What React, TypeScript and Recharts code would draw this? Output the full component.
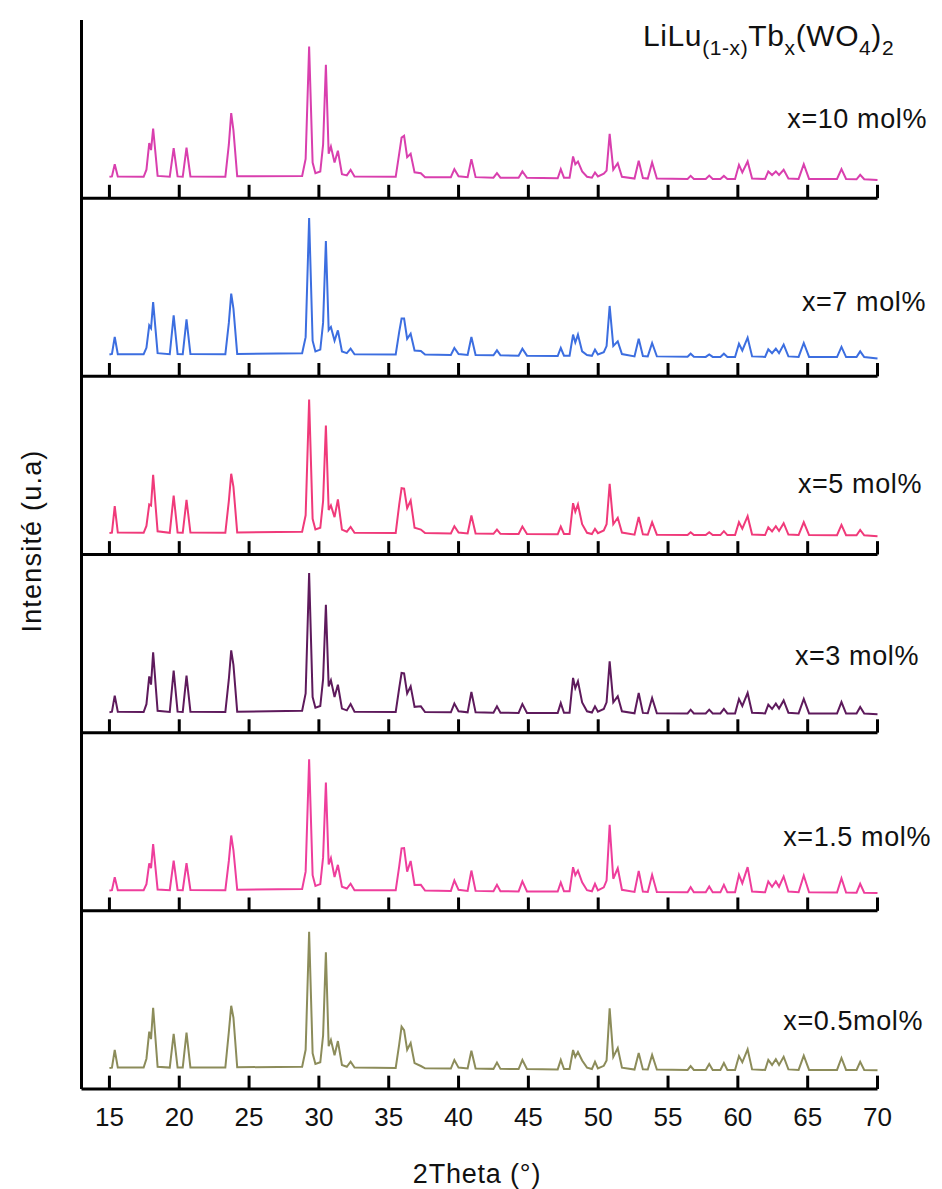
import { LineChart, Line, XAxis, YAxis, ReferenceLine } from 'recharts';

// 2θ sampling points: baseline feet, apexes and valleys of each reflection
const TWO_THETA = [
  15.0, 15.18, 15.38, 15.6,
  17.45, 17.65, 17.85, 17.98, 18.13, 18.45,
  19.32, 19.6, 19.88,
  20.25, 20.52, 20.8,
  23.3, 23.55, 23.72, 23.88, 24.15,
  28.8, 29.05, 29.3, 29.55, 29.75, 30.1, 30.3, 30.5, 30.7, 30.86, 31.12, 31.36, 31.65, 32.0, 32.27, 32.55,
  35.5, 35.75, 35.92, 36.1, 36.32, 36.57, 36.85, 37.3, 37.6,
  39.45, 39.7, 40.0, 40.65, 40.92, 41.22, 42.5, 42.75, 43.0, 44.3, 44.57, 44.9,
  47.1, 47.32, 47.55, 47.95, 48.2, 48.36, 48.55, 48.85, 49.2, 49.55, 49.77, 49.98, 50.4, 50.6, 50.82, 51.08, 51.4, 51.7,
  52.6, 52.9, 53.2, 53.55, 53.86, 54.2,
  56.4, 56.62, 56.85, 57.7, 57.95, 58.2, 58.75, 59.0, 59.25,
  59.8, 60.08, 60.32, 60.7, 61.02, 61.95, 62.18, 62.45, 62.72, 62.95, 63.28, 63.62, 64.35, 64.72, 65.1,
  67.1, 67.42, 67.75, 68.5, 68.76, 69.05, 70.0,
];

const I_10 = [
  12, 12.2, 19.1, 12.2,
  12, 16, 30.9, 27, 39.1, 12.5,
  12, 28.1, 12.2,
  12, 28.4, 12.2,
  12, 30, 47.7, 38, 12.3,
  12.5, 22, 85.1, 20, 14, 15, 30, 74.8, 25, 29, 20, 26.6, 13.5, 12.8, 15.9, 12.2,
  12, 25, 34, 35, 23, 24.9, 14.5, 14, 11.8,
  11.8, 16.3, 12.3, 11.8, 21.9, 11.8, 11.5, 14, 11.5, 11.4, 15, 11.4,
  11.2, 16.3, 11.5, 11.5, 23.4, 19, 20.6, 15, 12, 11.5, 14.4, 12.2, 13.7, 15.5, 36.1, 16, 19.6, 12,
  11, 21, 11.3, 11, 20, 11,
  10.8, 12.5, 10.8, 10.8, 12.7, 10.8, 10.8, 12.5, 10.8,
  10.8, 18.7, 14.5, 20.6, 11, 10.8, 15, 13, 15, 13, 15.9, 11, 10.8, 19.1, 10.8,
  10.8, 16.3, 10.8, 10.6, 13.1, 10.6, 10.2,
];

const I_7 = [
  12.3, 12.6, 22.1, 12.4,
  12.4, 16, 28.6, 27, 41.7, 13,
  12.4, 34.2, 12.5,
  12.4, 32, 12.5,
  12.4, 30, 46.4, 38, 12.6,
  13, 22, 88.9, 20, 14, 15, 30, 75.9, 26, 27.7, 20, 25.8, 14, 13, 15.5, 12.4,
  12.3, 25, 32.4, 32.4, 21, 23.9, 14.5, 14.2, 12.2,
  12, 15.9, 12.5, 12, 22.1, 12, 11.8, 14.6, 11.8, 11.6, 15.5, 11.6,
  11.4, 15.9, 11.6, 11.6, 23.4, 19, 23.4, 14, 12, 11.5, 15, 12.3, 13.5, 17, 39.5, 17, 19.6, 12.5,
  11.2, 21.1, 11.4, 11.2, 18.7, 11.2,
  11, 12.7, 11, 10.9, 12.3, 10.9, 10.9, 12.7, 10.9,
  10.9, 18.3, 14.5, 21.7, 11.2, 10.9, 15.2, 13, 15.5, 13, 17.8, 11.2, 10.9, 18.7, 10.9,
  10.8, 16.5, 10.8, 10.8, 14, 10.8, 10,
];

const I_5 = [
  12, 12.3, 27.1, 12.3,
  12.2, 16, 28.1, 27.5, 44.7, 13,
  12.2, 33.1, 12.3,
  12.2, 30.7, 12.3,
  12.2, 30, 45.3, 38, 12.4,
  12.8, 22, 87, 20, 14, 15, 30, 72.4, 25, 27.5, 21, 30.9, 14, 12.8, 15.5, 12.2,
  12.1, 28, 37.2, 37, 26, 30.3, 15, 14, 12,
  11.8, 15.9, 12.3, 11.8, 21.9, 11.8, 11.6, 14, 11.6, 11.5, 15.7, 11.5,
  11.3, 15.7, 11.5, 11.5, 28.8, 24, 28.1, 17, 12.2, 11.5, 14.4, 12, 13.5, 17, 39.7, 17, 20.6, 12.3,
  11.1, 21, 11.3, 11.1, 18.1, 11.1,
  10.9, 12.5, 10.9, 10.9, 12.5, 10.9, 10.9, 13.1, 10.9,
  10.9, 18.1, 14.5, 21.5, 11.2, 10.9, 15.3, 13, 15.9, 13.2, 17.6, 11.2, 10.9, 18.1, 10.9,
  10.8, 16.6, 10.8, 10.8, 13.8, 10.8, 10.3,
];

const I_3 = [
  11.4, 11.8, 20.8, 11.8,
  11.6, 16, 31.6, 27, 45.1, 12.3,
  11.6, 34.8, 11.8,
  11.6, 32, 11.8,
  11.6, 30, 46.2, 38, 11.8,
  12.3, 22, 89.6, 20, 14, 15, 30, 71.8, 26, 29.4, 20, 26.9, 13.5, 12.5, 16.1, 11.8,
  11.6, 25, 33.5, 33.3, 22, 26, 14.5, 14.8, 11.6,
  11.4, 16.3, 12, 11.4, 22.8, 11.4, 11.2, 14.8, 11.2, 11.1, 16.1, 11.1,
  11, 16.6, 11.2, 11.2, 30.7, 25, 28.8, 17, 12, 11.3, 14.8, 11.8, 13.3, 17, 40, 17, 20.4, 12,
  10.9, 22.3, 11.1, 10.9, 19.5, 10.9,
  10.8, 12.9, 10.8, 10.8, 12.9, 10.8, 10.8, 13.3, 10.8,
  10.8, 18.9, 15, 22.3, 11.2, 10.8, 15.7, 13.3, 16.3, 13.5, 18.1, 11.2, 10.8, 18.9, 10.8,
  10.7, 17.2, 10.7, 10.7, 14.4, 10.7, 10.3,
];

const I_1_5 = [
  11.4, 11.6, 18.9, 11.6,
  11.6, 15, 26.7, 24, 37.4, 12,
  11.6, 28.2, 11.7,
  11.6, 26.7, 11.7,
  11.6, 28, 42.3, 34, 11.8,
  12.3, 22, 85.1, 20, 14, 15, 30, 72, 26, 29.6, 19, 25.8, 13.5, 12.5, 15.2, 11.6,
  11.5, 25, 35, 35.2, 22, 28, 14.5, 14.6, 11.4,
  11.2, 17, 11.8, 11.2, 22.6, 11.2, 11, 14.6, 11, 10.9, 16.5, 10.9,
  10.8, 15.9, 11, 11, 24.5, 20, 22.6, 16, 11.6, 11, 15.2, 11.5, 13.2, 17, 48.3, 18, 23.9, 11.8,
  10.6, 22.4, 10.8, 10.6, 20.2, 10.6,
  10.4, 13.3, 10.4, 10.4, 13.7, 10.4, 10.4, 14.6, 10.4,
  10.4, 20.2, 15.5, 24.5, 10.8, 10.4, 16.5, 13.5, 16.5, 13.5, 19.3, 10.8, 10.4, 19.8, 10.4,
  10.3, 18.3, 10.3, 10.2, 15.2, 10.2, 10,
];

const I_0_5 = [
  11.8, 12, 21.9, 12,
  12, 17, 32.2, 28, 45.6, 12.5,
  12, 30.9, 12,
  12, 31.6, 12,
  12, 32, 46.7, 40, 12.2,
  12.5, 22, 88.3, 20, 14, 15, 30, 76.7, 24, 27.5, 19, 26.9, 13.5, 12.5, 15.3, 12,
  11.8, 25, 35, 33, 22, 25.8, 14.5, 12.9, 11.6,
  11.5, 16.3, 12, 11.5, 21.5, 11.5, 11.3, 14.8, 11.3, 11.2, 16.3, 11.2,
  11, 16.3, 11.2, 11.2, 21.9, 18, 20.8, 16, 12, 11.2, 15.3, 11.5, 13, 16, 45.3, 18, 23, 12,
  10.9, 20.2, 11, 10.9, 19.1, 10.9,
  10.7, 12.9, 10.7, 10.7, 14, 10.7, 10.7, 14.6, 10.7,
  10.7, 18.5, 15, 22.3, 11, 10.7, 16.3, 13.5, 16.7, 13.5, 18.1, 11, 10.7, 18.7, 10.7,
  10.7, 17.4, 10.7, 10.7, 15.2, 10.7, 10.5,
];

// top panel first
const SAMPLES = ['x=10 mol%', 'x=7 mol%', 'x=5 mol%', 'x=3 mol%', 'x=1.5 mol%', 'x=0.5mol%'];
const INTENSITIES = [I_10, I_7, I_5, I_3, I_1_5, I_0_5];
const COLORS = ['#d93fae', '#3c6ee0', '#f03a7a', '#5e1a5c', '#ee3e9c', '#8c8c5a'];

const TICKS = [15, 20, 25, 30, 35, 40, 45, 50, 55, 60, 65, 70];

const PANEL = 100; // each pattern gets its own 100-unit band
const TICK_LEN = 7.5;
const FONT = '"Liberation Sans", Arial, Helvetica, sans-serif';

const LABEL_POS = [
  { x: 927, y: 128 },
  { x: 926, y: 311 },
  { x: 922, y: 493 },
  { x: 919, y: 665 },
  { x: 931, y: 846 },
  { x: 923, y: 1030 },
];

const offsetOf = (i: number) => (SAMPLES.length - 1 - i) * PANEL;

const rows = TWO_THETA.map((t, j) => {
  const row: Record<string, number> = { t };
  INTENSITIES.forEach((values, i) => {
    row[`s${i}`] = offsetOf(i) + values[j];
  });
  return row;
});

export default function App() {
  return (
    <div
      style={{
        position: 'absolute',
        left: 0,
        top: 0,
        width: 942,
        height: 1189,
        background: '#fff',
      }}
    >
      <LineChart
        width={942}
        height={1189}
        data={rows}
        margin={{ top: 20, right: 64.5, left: 80.5, bottom: 40 }}
      >
        <XAxis
          dataKey="t"
          type="number"
          domain={[13, 70]}
          ticks={TICKS}
          height={60}
          tickLine={false}
          tickMargin={13}
          axisLine={{ stroke: '#000', strokeWidth: 3 }}
          tick={{ fontSize: 26, fill: '#111', fontFamily: FONT }}
        />
        <YAxis
          type="number"
          domain={[0, SAMPLES.length * PANEL]}
          width={1}
          tick={false}
          tickLine={false}
          axisLine={{ stroke: '#000', strokeWidth: 3 }}
        />

        {SAMPLES.slice(0, -1).map((name, i) => (
          <ReferenceLine
            key={`base-${name}`}
            y={offsetOf(i)}
            stroke="#000"
            strokeWidth={3}
          />
        ))}
        {SAMPLES.map((name, i) =>
          TICKS.map((t) => (
            <ReferenceLine
              key={`tick-${name}-${t}`}
              segment={[
                { x: t, y: offsetOf(i) },
                { x: t, y: offsetOf(i) + TICK_LEN },
              ]}
              stroke="#000"
              strokeWidth={3}
            />
          )),
        )}

        {SAMPLES.map((name, i) => (
          <Line
            key={name}
            name={name}
            dataKey={`s${i}`}
            type="linear"
            stroke={COLORS[i]}
            strokeWidth={2}
            dot={false}
            activeDot={false}
            isAnimationActive={false}
          />
        ))}

        {SAMPLES.map((name, i) => (
          <text
            key={`label-${name}`}
            x={LABEL_POS[i].x}
            y={LABEL_POS[i].y}
            textAnchor="end"
            fontSize={27}
            fontFamily={FONT}
            letterSpacing={0.6}
            fill="#111"
          >
            {name}
          </text>
        ))}

        <text
          x={643}
          y={46}
          fontSize={30}
          fontFamily={FONT}
          letterSpacing={0.6}
          fill="#111"
        >
          LiLu
          <tspan fontSize={21} dy={9}>(1-x)</tspan>
          <tspan dy={-9}>Tb</tspan>
          <tspan fontSize={21} dy={9}>x</tspan>
          <tspan dy={-9}>(WO</tspan>
          <tspan fontSize={21} dy={9}>4</tspan>
          <tspan dy={-9}>)</tspan>
          <tspan fontSize={21} dy={9}>2</tspan>
        </text>

        <text
          x={477}
          y={1183}
          textAnchor="middle"
          fontSize={27}
          fontFamily={FONT}
          letterSpacing={0.8}
          fill="#111"
        >
          2Theta (°)
        </text>

        <text
          x={0}
          y={0}
          transform="translate(41 541) rotate(-90)"
          textAnchor="middle"
          fontSize={27}
          fontFamily={FONT}
          letterSpacing={1.2}
          fill="#111"
        >
          Intensité (u.a)
        </text>
      </LineChart>
    </div>
  );
}
